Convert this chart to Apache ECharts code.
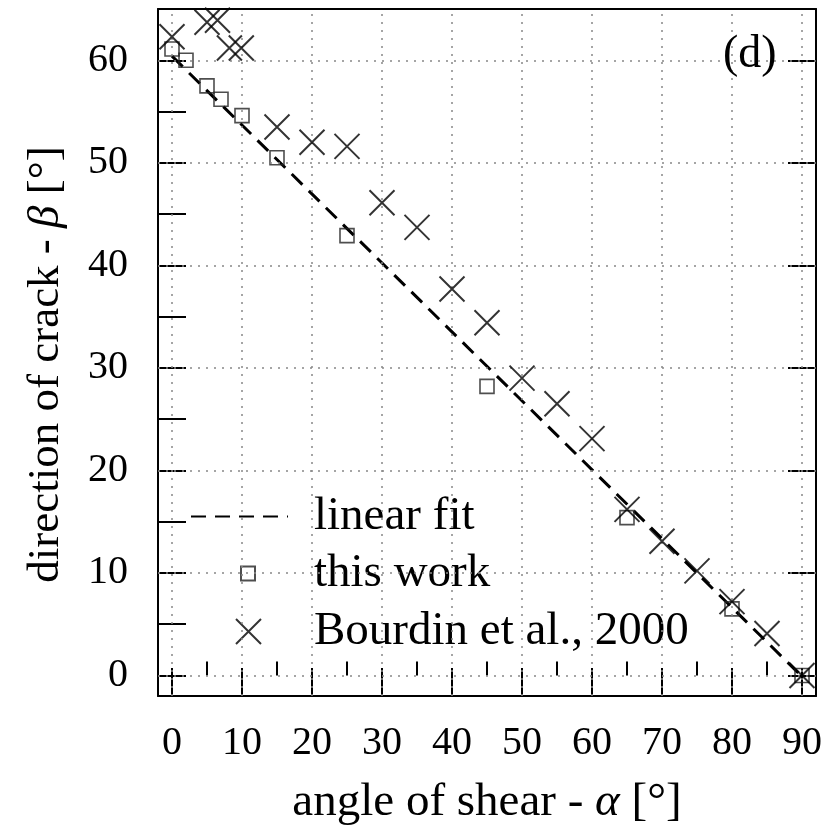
<!DOCTYPE html>
<html><head><meta charset="utf-8">
<script src="https://cdn.jsdelivr.net/npm/echarts@6/dist/echarts.min.js"></script>
<style>html,body{margin:0;padding:0;background:#fff}#c{width:836px;height:827px}</style>
</head><body><div id="c"></div>
<script>
// ---- data ----
const xTicks = [0, 10, 20, 30, 40, 50, 60, 70, 80, 90];
const xMinorTicks = [5, 15, 25, 35, 45, 55, 65, 75, 85];
const yTicks = [0, 10, 20, 30, 40, 50, 60];
const yMinorTicks = [5, 15, 25, 35, 45, 55];

const alphaThis = [0, 2, 5, 7, 10, 15, 25, 45, 65, 80, 90];
const betaThis = [61.1, 60.0, 57.5, 56.2, 54.6, 50.5, 42.9, 28.2, 15.4, 6.5, 0.0];

const alphaBourdin = [0, 5, 6.5, 8.2, 9.9, 15, 20, 25, 30, 35, 40, 45, 50, 55, 60, 65, 70, 75, 80, 85, 90];
const betaBourdin = [62.3, 63.7, 63.9, 61.2, 61.2, 53.5, 52.0, 51.6, 46.1, 43.7, 37.7, 34.4, 29.0, 26.5, 23.1, 16.2, 13.1, 10.2, 7.2, 4.1, 0.0];

const fitAlpha = [0, 90];
const fitBeta = [60.4, -0.1];

const seriesNames = ['linear fit', 'this work', 'Bourdin et al., 2000'];
const xName = 'angle of shear - {i|α} [°]';
const yName = 'direction of crack - {i|β} [°]';
const panelLabel = '(d)';

// ---- chart ----
const FONT = 'Liberation Serif';
const zip = (a, b) => a.map((v, i) => [v, b[i]]);
const X_MIN = -2, X_MAX = 92, Y_MIN = -2, Y_MAX = 65;
const TICK_FS = 40, NAME_FS = 47, LEGEND_FS = 47;

function xAxisCfg(extra) {
  return Object.assign({
    type: 'value', min: X_MIN, max: X_MAX, gridIndex: 0,
    axisLine: { show: false }, splitLine: { show: false },
    axisTick: { show: false }, axisLabel: { show: false }
  }, extra);
}
function yAxisCfg(extra) {
  return Object.assign({
    type: 'value', min: Y_MIN, max: Y_MAX, gridIndex: 0,
    axisLine: { show: false }, splitLine: { show: false },
    axisTick: { show: false }, axisLabel: { show: false }
  }, extra);
}
const lineBlack = { color: '#000', width: 2 };
const legendText = (pad) => ({ fontSize: LEGEND_FS, color: '#000', fontFamily: FONT, padding: [0, 0, 0, pad] });

const option = {
  animation: false,
  backgroundColor: '#fff',
  textStyle: { fontFamily: FONT },
  grid: { left: 158, top: 9, right: 20, bottom: 131, containLabel: false, outerBoundsMode: 'none' },
  xAxis: [
    xAxisCfg({
      position: 'bottom',
      axisLine: { show: true, onZero: false, lineStyle: lineBlack },
      axisTick: { show: true, inside: true, length: 28, customValues: xTicks, lineStyle: lineBlack },
      axisLabel: { show: true, customValues: xTicks, margin: 27, fontSize: TICK_FS, color: '#000', fontFamily: FONT },
      name: xName, nameLocation: 'middle', nameGap: 83,
      nameTextStyle: { fontSize: NAME_FS, color: '#000', fontFamily: FONT,
        rich: { i: { fontFamily: FONT, fontSize: NAME_FS, fontStyle: 'italic', color: '#000' } } }
    }),
    xAxisCfg({
      position: 'bottom',
      axisTick: { show: true, inside: true, length: 14, customValues: xMinorTicks, lineStyle: lineBlack }
    }),
    xAxisCfg({
      position: 'top',
      axisLine: { show: true, onZero: false, lineStyle: lineBlack }
    })
  ],
  yAxis: [
    yAxisCfg({
      position: 'left',
      axisLine: { show: true, onZero: false, lineStyle: lineBlack },
      axisTick: { show: true, inside: true, length: 28, customValues: yTicks, lineStyle: lineBlack },
      axisLabel: { show: true, customValues: yTicks, margin: 30, fontSize: TICK_FS, color: '#000', fontFamily: FONT,
        padding: [3, 0, 0, 0] },
      name: yName, nameLocation: 'middle', nameGap: 89,
      nameTextStyle: { fontSize: 45, color: '#000', fontFamily: FONT, padding: [0, 24, 0, 0],
        rich: { i: { fontFamily: FONT, fontSize: 45, fontStyle: 'italic', color: '#000' } } }
    }),
    yAxisCfg({
      position: 'left',
      axisTick: { show: true, inside: true, length: 14, customValues: yMinorTicks, lineStyle: lineBlack }
    }),
    yAxisCfg({
      position: 'right',
      axisLine: { show: true, onZero: false, lineStyle: lineBlack },
      axisTick: { show: true, inside: true, length: 28, customValues: yTicks, lineStyle: lineBlack }
    }),
    yAxisCfg({
      position: 'right',
      axisTick: { show: true, inside: true, length: 14, customValues: yMinorTicks, lineStyle: lineBlack }
    })
  ],
  legend: [
    {
      data: [seriesNames[0]], left: 190, top: 493, padding: 0,
      itemWidth: 97, itemHeight: 14, selectedMode: false,
      itemStyle: { opacity: 0 },
      textStyle: legendText(21)
    },
    {
      data: [seriesNames[1]], left: 240, top: 550, padding: 0,
      itemWidth: 14, itemHeight: 14, selectedMode: false,
      textStyle: legendText(54)
    },
    {
      data: [seriesNames[2]], left: 235, top: 608, padding: 0,
      itemWidth: 25, itemHeight: 25, selectedMode: false,
      textStyle: legendText(48)
    }
  ],
  graphic: [
    { type: 'text', left: 723, top: 32, z: 100,
      style: { text: panelLabel, font: '46px "Liberation Serif"', fill: '#000' } }
  ],
  series: [
    {
      name: '__grid', type: 'scatter', data: [], z: 1, silent: true,
      markLine: {
        silent: true, symbol: 'none', animation: false,
        label: { show: false },
        lineStyle: { color: '#888', width: 1.5, type: [2, 6] },
        data: xTicks.map(v => ({ xAxis: v })).concat(yTicks.map(v => ({ yAxis: v })))
      }
    },
    {
      name: seriesNames[0], type: 'line', data: zip(fitAlpha, fitBeta), z: 3,
      showSymbol: false, symbol: 'none',
      lineStyle: { color: '#000', width: 3, type: [15, 9] },
      itemStyle: { color: '#000' }
    },
    {
      name: seriesNames[1], type: 'scatter', data: zip(alphaThis, betaThis), z: 4,
      symbol: 'rect', symbolSize: 14,
      itemStyle: { color: 'rgba(0,0,0,0)', borderColor: '#222', borderWidth: 1.6 }
    },
    {
      name: seriesNames[2], type: 'scatter', data: zip(alphaBourdin, betaBourdin), z: 5,
      symbol: 'path://M0,0L10,10M10,0L0,10', symbolSize: 25,
      itemStyle: { color: 'rgba(0,0,0,0)', borderColor: '#000', borderWidth: 2 }
    }
  ]
};
const chart = echarts.init(document.getElementById('c'), null, { renderer: 'canvas' });
chart.setOption(option);
</script>
</body></html>
